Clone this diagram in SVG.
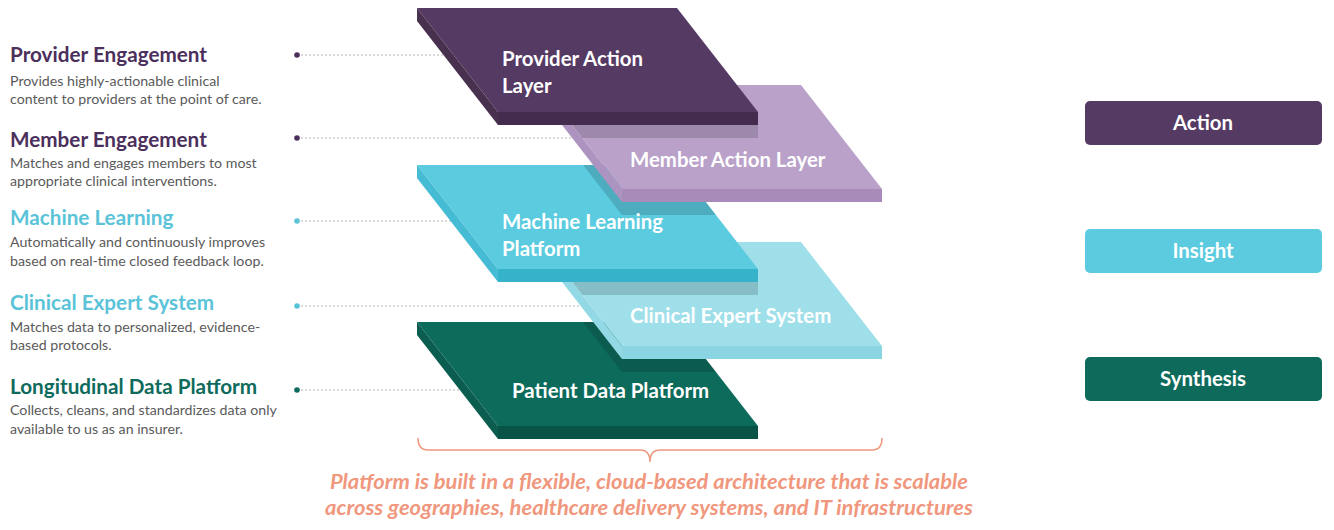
<svg xmlns="http://www.w3.org/2000/svg" width="1334" height="530" viewBox="0 0 1334 530">
<style>
.t{font-family:Lato,"Open Sans","Liberation Sans",sans-serif;font-weight:bold;font-size:20.7px}
.d{font-family:Lato,"Open Sans","Liberation Sans",sans-serif;font-size:14.2px;fill:#5a5a5a}
.lbl{font-family:Lato,"Open Sans","Liberation Sans",sans-serif;font-weight:bold;font-size:20.4px;fill:#ffffff}
.box{font-family:Lato,"Open Sans","Liberation Sans",sans-serif;font-weight:bold;font-size:20.4px;fill:#ffffff;text-anchor:middle}
.note{font-family:Lato,"Open Sans","Liberation Sans",sans-serif;font-style:italic;font-weight:bold;font-size:20px;fill:#f0977d;text-anchor:middle}
.lead{stroke:#b5b5b5;stroke-width:1;stroke-dasharray:2 2;fill:none}
.shadow{fill:#000;opacity:0.15}
</style>
<defs>
<clipPath id="cPatient"><polygon points="417,322 677,322 758,426 498,426"/></clipPath>
<clipPath id="cCES"><polygon points="541,242 801,242 882,346 622,346"/></clipPath>
<clipPath id="cML"><polygon points="417,165 677,165 758,269 498,269"/></clipPath>
<clipPath id="cMember"><polygon points="541,85 801,85 882,189 622,189"/></clipPath>
</defs>

<g id="connectors">
<line class="lead" x1="297" y1="55" x2="456" y2="55"/>
<line class="lead" x1="297" y1="138" x2="584" y2="138"/>
<line class="lead" x1="297" y1="221" x2="463" y2="221"/>
<line class="lead" x1="297" y1="306" x2="593" y2="306"/>
<line class="lead" x1="297" y1="390" x2="472" y2="390"/>
<circle cx="297" cy="55" r="2.8" fill="#4b2f5c"/>
<circle cx="297" cy="138" r="2.8" fill="#4b2f5c"/>
<circle cx="297" cy="221" r="2.8" fill="#5bc3d8"/>
<circle cx="297" cy="306" r="2.8" fill="#5bc3d8"/>
<circle cx="297" cy="390" r="2.8" fill="#0e6b5c"/>
</g>

<g id="desc-provider">
<text class="t" x="10" y="62" fill="#4b2f5c">Provider Engagement</text>
<text class="d" x="10" y="86">Provides highly-actionable clinical</text>
<text class="d" x="10" y="104">content to providers at the point of care.</text>
</g>
<g id="desc-member">
<text class="t" x="10" y="147" fill="#4b2f5c">Member Engagement</text>
<text class="d" x="10" y="168">Matches and engages members to most</text>
<text class="d" x="10" y="186">appropriate clinical interventions.</text>
</g>
<g id="desc-ml">
<text class="t" x="10" y="225" fill="#5bc3d8">Machine Learning</text>
<text class="d" x="10" y="247">Automatically and continuously improves</text>
<text class="d" x="10" y="266">based on real-time closed feedback loop.</text>
</g>
<g id="desc-ces">
<text class="t" x="10" y="310" fill="#5bc3d8">Clinical Expert System</text>
<text class="d" x="10" y="332">Matches data to personalized, evidence-</text>
<text class="d" x="10" y="350">based protocols.</text>
</g>
<g id="desc-ldp">
<text class="t" x="10" y="394" fill="#0e6b5c">Longitudinal Data Platform</text>
<text class="d" x="10" y="415">Collects, cleans, and standardizes data only</text>
<text class="d" x="10" y="434">available to us as an insurer.</text>
</g>

<g id="layer-patient">
<polygon points="417,322 677,322 758,426 498,426" fill="#0d6b5c"/>
<polygon points="417,322 498,426 498,439 417,335" fill="#0b5d50"/>
<polygon points="498,426 758,426 758,439 498,439" fill="#0a5447"/>
<g clip-path="url(#cPatient)"><polygon class="shadow" points="541,255 801,255 882,359 882,372 622,372 541,268"/></g>
<text class="lbl" x="512" y="398">Patient Data Platform</text>
</g>

<g id="layer-ces">
<polygon points="541,242 801,242 882,346 622,346" fill="#9fdfea"/>
<polygon points="541,242 622,346 622,359 541,255" fill="#93d9e5"/>
<polygon points="622,346 882,346 882,359 622,359" fill="#8bd4e2"/>
<g clip-path="url(#cCES)"><polygon class="shadow" points="417,178 677,178 758,282 758,295 498,295 417,191"/></g>
<text class="lbl" x="630" y="323">Clinical Expert System</text>
</g>

<g id="layer-ml">
<polygon points="417,165 677,165 758,269 498,269" fill="#5bcbe0"/>
<polygon points="417,165 498,269 498,282 417,178" fill="#45bcd3"/>
<polygon points="498,269 758,269 758,282 498,282" fill="#36b3cb"/>
<g clip-path="url(#cML)"><polygon class="shadow" points="541,98 801,98 882,202 882,215 622,215 541,111"/></g>
<text class="lbl" x="502" y="229">Machine Learning</text>
<text class="lbl" x="502" y="256">Platform</text>
</g>

<g id="layer-member">
<polygon points="541,85 801,85 882,189 622,189" fill="#b9a1c9"/>
<polygon points="541,85 622,189 622,202 541,98" fill="#ad93bf"/>
<polygon points="622,189 882,189 882,202 622,202" fill="#a88bb9"/>
<g clip-path="url(#cMember)"><polygon class="shadow" points="417,21 677,21 758,125 758,138 498,138 417,34"/></g>
<text class="lbl" x="630" y="167">Member Action Layer</text>
</g>

<g id="layer-provider">
<polygon points="417,8 677,8 758,112 498,112" fill="#553a63"/>
<polygon points="417,8 498,112 498,125 417,21" fill="#48304f"/>
<polygon points="498,112 758,112 758,125 498,125" fill="#432c4e"/>
<text class="lbl" x="502" y="66">Provider Action</text>
<text class="lbl" x="502" y="93">Layer</text>
</g>

<g id="brace">
<path d="M418,438 Q418,450 428,450 L640,450 Q650,450 650,462 Q650,450 660,450 L872,450 Q882,450 882,438" fill="none" stroke="#f0977d" stroke-width="1.5"/>
</g>
<g id="note">
<text class="note" x="649" y="489" textLength="638" lengthAdjust="spacingAndGlyphs">Platform is built in a flexible, cloud-based architecture that is scalable</text>
<text class="note" x="649" y="515" textLength="648" lengthAdjust="spacingAndGlyphs">across geographies, healthcare delivery systems, and IT infrastructures</text>
</g>

<g id="box-action">
<rect x="1085" y="101" width="237" height="44" rx="5" fill="#553a63"/>
<text class="box" x="1203" y="130">Action</text>
</g>
<g id="box-insight">
<rect x="1085" y="229" width="237" height="44" rx="5" fill="#5ccbe0"/>
<text class="box" x="1203" y="258">Insight</text>
</g>
<g id="box-synthesis">
<rect x="1085" y="357" width="237" height="44" rx="5" fill="#0e6b5c"/>
<text class="box" x="1203" y="386">Synthesis</text>
</g>
</svg>
